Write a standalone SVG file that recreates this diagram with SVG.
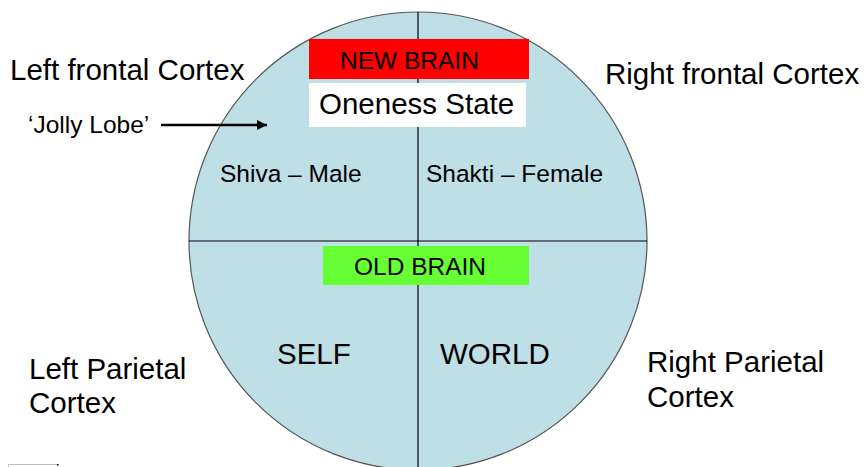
<svg xmlns="http://www.w3.org/2000/svg" width="864" height="467" viewBox="0 0 864 467">
<defs>
<style>
text{font-family:"Liberation Sans",Arial,sans-serif;fill:#000}
.big{font-size:29.5px}
.mid{font-size:24.5px}
.line{stroke:#000;stroke-width:1.2;fill:none}
</style>
<marker id="ah" viewBox="0 0 10 10" refX="10" refY="5" markerWidth="4" markerHeight="4" orient="auto" markerUnits="strokeWidth">
<path d="M0,0 L10,5 L0,10 z" fill="#000"/>
</marker>
</defs>
<rect width="864" height="467" fill="#fff"/>
<g id="brain">
<circle cx="418" cy="241" r="229" fill="#BEDFE5" stroke="#555" stroke-width="1.2"/>
<line class="line" x1="189" y1="241" x2="647" y2="241"/>
<line class="line" x1="418" y1="12" x2="418" y2="467"/>
</g>
<g id="new-brain">
<rect x="309" y="39" width="220" height="40" fill="#FF0000"/>
<text class="mid" x="340" y="69">NEW BRAIN</text>
</g>
<g id="oneness">
<rect x="309" y="83" width="217" height="44" fill="#fff"/>
<text class="big" x="319" y="114">Oneness State</text>
</g>
<g id="old-brain">
<rect x="323" y="246" width="206" height="39" fill="#66FF33"/>
<text class="mid" x="354" y="275">OLD BRAIN</text>
</g>
<g id="shiva"><text class="mid" x="220" y="182">Shiva – Male</text></g>
<g id="shakti"><text class="mid" x="426" y="182">Shakti – Female</text></g>
<g id="self"><text class="big" x="277" y="364">SELF</text></g>
<g id="world"><text class="big" x="440" y="364">WORLD</text></g>
<g id="left-frontal"><text class="big" x="10" y="80">Left frontal Cortex</text></g>
<g id="right-frontal"><text class="big" x="605" y="84">Right frontal Cortex</text></g>
<g id="left-parietal"><text class="big" x="29" y="379">Left Parietal</text><text class="big" x="29" y="413">Cortex</text></g>
<g id="right-parietal"><text class="big" x="647" y="372">Right Parietal</text><text class="big" x="647" y="407">Cortex</text></g>
<g id="jolly"><text class="mid" x="28" y="133">‘Jolly Lobe’</text></g>
<g id="connectors">
<line x1="161" y1="125" x2="267" y2="125" stroke="#000" stroke-width="2.5" marker-end="url(#ah)"/>
</g>
<path d="M8.5,467 V464.5 H57" fill="none" stroke="#bbb" stroke-width="1"/>
<rect x="57" y="464" width="1.5" height="1.5" fill="#000"/>
</svg>
